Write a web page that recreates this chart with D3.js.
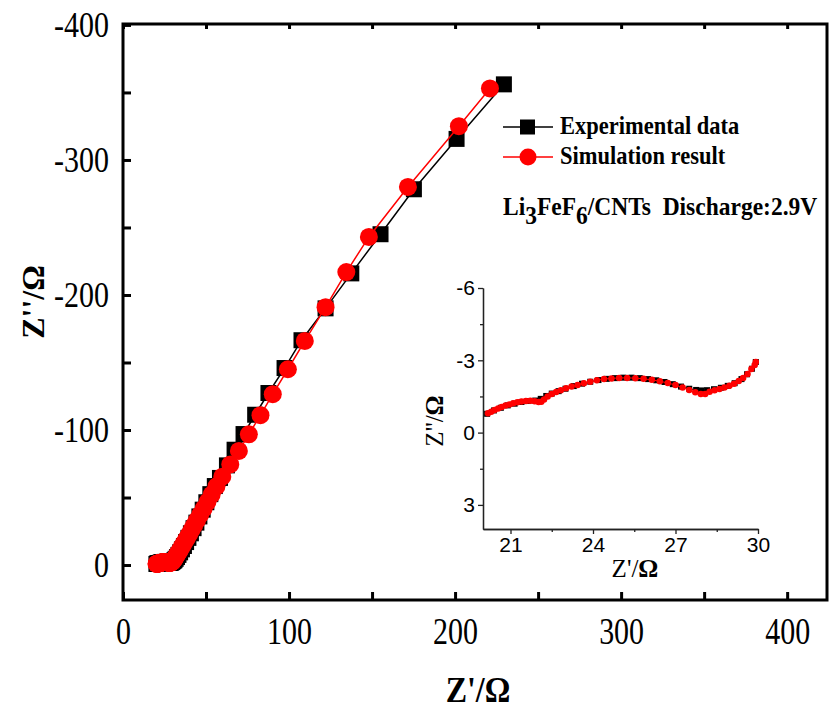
<!DOCTYPE html>
<html>
<head>
<meta charset="utf-8">
<script src="https://cdnjs.cloudflare.com/ajax/libs/d3/7.8.5/d3.min.js"></script>
<style>
body { margin: 0; background: #fff; }
svg { display: block; }
text { font-family: "Liberation Serif", "Times New Roman", serif; fill: #000; }
</style>
</head>
<body>
<div id="chart"></div>
<script>
// experimental data (Z', Z''), low-frequency part shown in the inset
var expInset = [[20.15,-0.78],[20.4,-0.92],[20.65,-1.03],[20.9,-1.13],[21.15,-1.2],[21.4,-1.27],[21.65,-1.31],[21.9,-1.33],
    [22.1,-1.4],[22.3,-1.52],[22.5,-1.62],[22.75,-1.72],[23.0,-1.82],[23.3,-1.93],[23.6,-2.03],[23.9,-2.11],[24.2,-2.18],
    [24.5,-2.23],[24.8,-2.26],[25.1,-2.28],[25.4,-2.28],[25.7,-2.26],[26.0,-2.22],[26.3,-2.17],[26.6,-2.1],[26.9,-2.01],
    [27.2,-1.91],[27.5,-1.82],[27.75,-1.77],[27.95,-1.75],[28.15,-1.76],[28.4,-1.8],[28.65,-1.86],[28.9,-1.94],[29.15,-2.05],
    [29.4,-2.22],[29.6,-2.42],[29.78,-2.65],[29.92,-2.93]];
var expTail = [[30.4,-3.0],[31.0,-3.6],[31.7,-4.6],[32.5,-5.9],[33.4,-7.5],[34.4,-9.4],[35.5,-11.6],[36.7,-14.1],[38.0,-17.0],
    [39.4,-20.1],[40.9,-23.5],[42.5,-27.3],[44.2,-31.4],[46.0,-36.0],[48.0,-41.0],[50.2,-46.5],[52.6,-52.5],[55.3,-58.5],
    [58.4,-64.5],[62.6,-73.8],[67.2,-85.4],[72.6,-97.0],[79.6,-111.3],[87.6,-127.4],[97.3,-145.9],[107.5,-166.5],
    [122.0,-190.1],[137.5,-216.0],[155.1,-245.0],[175.2,-278.3],[200.9,-315.6],[229.4,-356.0]];

// simulation result
var simInset = [[20.18,-0.8],[20.3,-0.87],[20.42,-0.94],[20.55,-1.0],[20.68,-1.06],[20.82,-1.12],[20.96,-1.17],[21.1,-1.22],
    [21.25,-1.26],[21.4,-1.29],[21.56,-1.31],[21.72,-1.32],[21.88,-1.3],[22.02,-1.27],[22.12,-1.28],[22.22,-1.37],[22.35,-1.5],
    [22.5,-1.6],[22.66,-1.68],[22.83,-1.76],[23.02,-1.84],[23.22,-1.91],[23.44,-1.98],[23.67,-2.05],[23.9,-2.11],[24.14,-2.17],
    [24.4,-2.22],[24.67,-2.25],[24.95,-2.27],[25.24,-2.27],[25.54,-2.26],[25.84,-2.23],[26.14,-2.19],[26.43,-2.13],[26.72,-2.06],
    [27.0,-1.97],[27.26,-1.87],[27.5,-1.77],[27.72,-1.67],[27.92,-1.6],[28.08,-1.6],[28.24,-1.7],[28.42,-1.76],[28.6,-1.81],
    [28.78,-1.87],[28.96,-1.94],[29.13,-2.03],[29.3,-2.14],[29.46,-2.27],[29.62,-2.43],[29.76,-2.64],[29.88,-2.8],[29.92,-2.93]];
var simTail = [[30.3,-3.3],[30.8,-4.2],[31.4,-5.3],[32.1,-6.7],[32.9,-8.3],[33.8,-10.1],[34.8,-12.2],[35.9,-14.5],[37.1,-17.0],
    [38.4,-19.8],[39.8,-22.8],[41.3,-26.0],[42.9,-29.5],[44.6,-33.2],[46.5,-37.3],[48.6,-41.8],[50.9,-46.8],[53.4,-52.2],
    [56.3,-58.3],[59.8,-65.4],[64.6,-74.5],[69.8,-84.5],[75.8,-96.8],[82.8,-111.0],[90.2,-126.5],[99.3,-145.0],[109.5,-166.0],
    [122.0,-191.0],[134.5,-217.0],[148.1,-243.0],[171.6,-280.0],[202.3,-325.0],[221.0,-353.0]];

var seriesNames = ["Experimental data", "Simulation result"];
var xTicks = [0, 100, 200, 300, 400];
var xMinor = [50, 150, 250, 350];
var yTicks = [-400, -300, -200, -100, 0];
var yMinor = [-350, -250, -150, -50];
var insetXTicks = [21, 24, 27, 30];
var insetXMinor = [22.5, 25.5, 28.5];
var insetYTicks = [-6, -3, 0, 3];
var insetYMinor = [-4.5, -1.5, 1.5];

var width = 830, height = 713;
var svg = d3.select("#chart").append("svg").attr("width", width).attr("height", height);

// main scales
var x = d3.scaleLinear().domain([0, 424]).range([123, 827]);
var y = d3.scaleLinear().domain([-400.7, 25.9]).range([24, 600]);
var plain = function (d) { return String(d); };

function styleAxis(g, size, stretch) {
    g.select(".domain").remove();
    g.selectAll("line").attr("stroke", "#000").attr("stroke-width", 3);
    g.selectAll("text").attr("font-size", size).attr("fill", "#000")
        .attr("transform", "scale(1," + (stretch || 1) + ")");
}

// main axes (ticks inside the frame)
svg.append("g").attr("transform", "translate(0,600)")
    .call(d3.axisBottom(x).tickValues(xTicks).tickFormat(plain).tickSizeInner(-8).tickSizeOuter(0).tickPadding(14))
    .call(styleAxis, 30, 1.25);
svg.append("g").attr("transform", "translate(0,600)")
    .call(d3.axisBottom(x).tickValues(xMinor).tickFormat("").tickSizeInner(-8).tickSizeOuter(0))
    .call(styleAxis, 30);
svg.append("g").attr("transform", "translate(0,24)")
    .call(d3.axisTop(x).tickValues(xTicks.concat(xMinor)).tickFormat("").tickSizeInner(-5).tickSizeOuter(0))
    .call(styleAxis, 30);
svg.append("g").attr("transform", "translate(123,0)")
    .call(d3.axisLeft(y).tickValues(yTicks).tickFormat(plain).tickSizeInner(-8).tickSizeOuter(0).tickPadding(14))
    .call(styleAxis, 30, 1.2);
svg.append("g").attr("transform", "translate(123,0)")
    .call(d3.axisLeft(y).tickValues(yMinor).tickFormat("").tickSizeInner(-8).tickSizeOuter(0))
    .call(styleAxis, 30);

// frame
svg.append("rect").attr("x", 123).attr("y", 24).attr("width", 704).attr("height", 576)
    .attr("fill", "none").attr("stroke", "#000").attr("stroke-width", 3);

// axis titles
svg.append("text").attr("transform", "translate(478,702) scale(1,1.15)").attr("text-anchor", "middle")
    .attr("font-size", 32).attr("font-weight", "bold").text("Z'/\u03a9");
svg.append("text").attr("transform", "translate(44,302) rotate(-90)").attr("text-anchor", "middle")
    .attr("font-size", 32).attr("font-weight", "bold").text("Z''/\u03a9");

// draw one series: line + markers
function drawSeries(g, data, sx, sy, color, shape, size, lw) {
    var line = d3.line().x(function (d) { return sx(d[0]); }).y(function (d) { return sy(d[1]); });
    g.append("path").datum(data).attr("d", line).attr("fill", "none").attr("stroke", color).attr("stroke-width", lw);
    if (shape === "square") {
        g.selectAll(null).data(data).enter().append("rect")
            .attr("x", function (d) { return sx(d[0]) - size / 2; })
            .attr("y", function (d) { return sy(d[1]) - size / 2; })
            .attr("width", size).attr("height", size).attr("fill", color);
    } else {
        g.selectAll(null).data(data).enter().append("circle")
            .attr("cx", function (d) { return sx(d[0]); })
            .attr("cy", function (d) { return sy(d[1]); })
            .attr("r", size / 2).attr("fill", color);
    }
}

var mainG = svg.append("g");
drawSeries(mainG, expInset.concat(expTail), x, y, "#000", "square", 16, 1.5);
drawSeries(mainG, simInset.concat(simTail), x, y, "#ff0000", "circle", 18, 1.5);

// legend
var legend = svg.append("g");
legend.append("line").attr("x1", 503).attr("x2", 553).attr("y1", 127).attr("y2", 127).attr("stroke", "#000").attr("stroke-width", 1.5);
legend.append("rect").attr("x", 520).attr("y", 119.5).attr("width", 15).attr("height", 15).attr("fill", "#000");
legend.append("line").attr("x1", 503).attr("x2", 553).attr("y1", 157).attr("y2", 157).attr("stroke", "#ff0000").attr("stroke-width", 1.5);
legend.append("circle").attr("cx", 528).attr("cy", 157).attr("r", 8.5).attr("fill", "#ff0000");
legend.selectAll("text.leg").data(seriesNames).enter().append("text").attr("class", "leg")
    .attr("transform", function (d, i) { return "translate(560," + (134 + i * 30) + ") scale(1,1.1)"; })
    .attr("font-size", 22.5).attr("font-weight", "bold").text(String);

// sample annotation
var note = svg.append("text").attr("transform", "translate(503,215) scale(1,1.1)").attr("font-size", 23.5).attr("font-weight", "bold")
    .style("white-space", "pre");
note.append("tspan").text("Li");
note.append("tspan").attr("dy", 8).text("3");
note.append("tspan").attr("dy", -8).text("FeF");
note.append("tspan").attr("dy", 8).text("6");
note.append("tspan").attr("dy", -8).text("/CNTs  Discharge:2.9V");

// inset
var xi = d3.scaleLinear().domain([20, 30]).range([483, 758]);
var yi = d3.scaleLinear().domain([-6, 4]).range([288, 529]);

function styleInset(g) {
    g.select(".domain").attr("stroke", "#222").attr("stroke-width", 1.3);
    g.selectAll("line").attr("stroke", "#222").attr("stroke-width", 1.3);
    g.selectAll("text").attr("font-size", 21).style("font-family", "'Liberation Sans', Arial, sans-serif").attr("fill", "#000");
}

svg.append("g").attr("transform", "translate(0,529)")
    .call(d3.axisBottom(xi).tickValues(insetXTicks).tickFormat(plain).tickSizeInner(5).tickSizeOuter(0).tickPadding(3))
    .call(styleInset);
svg.append("g").attr("transform", "translate(0,529)")
    .call(d3.axisBottom(xi).tickValues(insetXMinor).tickFormat("").tickSizeInner(3).tickSizeOuter(0))
    .call(styleInset);
svg.append("g").attr("transform", "translate(483,0)")
    .call(d3.axisLeft(yi).tickValues(insetYTicks).tickFormat(plain).tickSizeInner(5).tickSizeOuter(0).tickPadding(3))
    .call(styleInset);
svg.append("g").attr("transform", "translate(483,0)")
    .call(d3.axisLeft(yi).tickValues(insetYMinor).tickFormat("").tickSizeInner(3).tickSizeOuter(0))
    .call(styleInset);

var insetG = svg.append("g");
drawSeries(insetG, expInset, xi, yi, "#000", "square", 6, 1);
drawSeries(insetG, simInset, xi, yi, "#ff0000", "circle", 6.5, 1);

// inset titles
var ixt = svg.append("text").attr("x", 635).attr("y", 577).attr("text-anchor", "middle").attr("font-size", 25);
ixt.append("tspan").text("Z'/");
ixt.append("tspan").attr("font-weight", "bold").text("\u03a9");
var iyt = svg.append("text").attr("transform", "translate(443,421) rotate(-90)").attr("text-anchor", "middle").attr("font-size", 25);
iyt.append("tspan").text("Z''/");
iyt.append("tspan").attr("font-weight", "bold").text("\u03a9");
</script>
</body>
</html>
